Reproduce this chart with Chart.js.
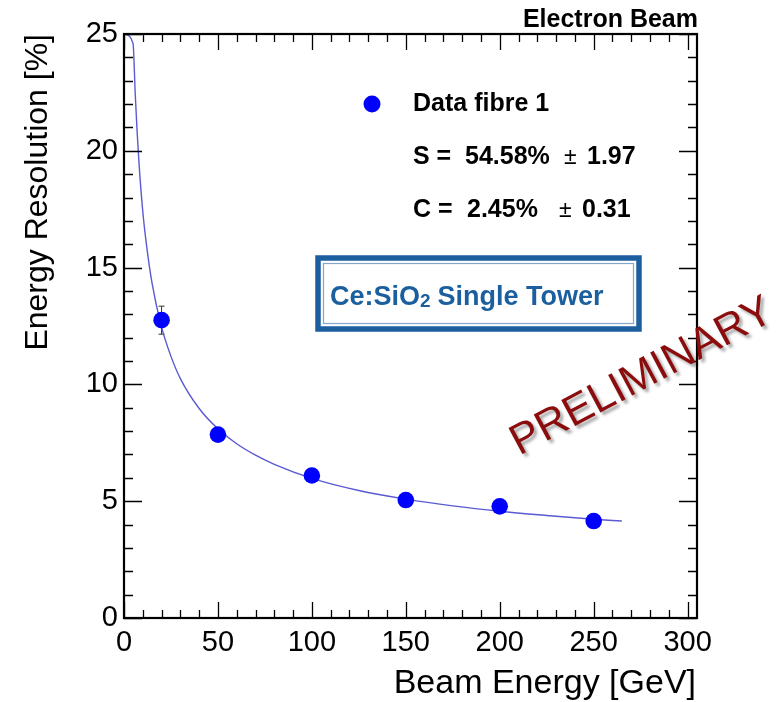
<!DOCTYPE html>
<html>
<head>
<meta charset="utf-8">
<script src="https://cdn.jsdelivr.net/npm/chart.js@4.4.1/dist/chart.umd.min.js"></script>
<style>
  html, body { margin: 0; padding: 0; background: #fff; }
  #wrap { width: 778px; height: 702px; }
</style>
</head>
<body>
<div id="wrap"><canvas id="c" width="778" height="702"></canvas></div>
<script>
// ---- Data ----
const beamEnergy = [20, 50, 100, 150, 200, 250];
const resolution = [12.75, 7.85, 6.1, 5.05, 4.78, 4.15];
const resError   = [0.6, 0.15, 0.1, 0.08, 0.07, 0.06];

// fit curve
const fitEnergy = [0.3, 4.8, 6, 7, 8, 10, 12, 15, 20, 25, 30, 40, 50, 60, 70, 80, 100, 125, 150, 175, 200, 225, 250, 265];
const fitRes    = [25, 24.6, 22.4, 20.8, 19.45, 17.4, 15.95, 14.3, 12.45, 11.2, 10.25, 8.97, 8.1, 7.46, 6.97, 6.58, 5.98, 5.46, 5.09, 4.8, 4.57, 4.39, 4.23, 4.15];

const xTickLabels = [0, 50, 100, 150, 200, 250, 300];
const yTickLabels = [0, 5, 10, 15, 20, 25];

const FONT = '"Liberation Sans", Arial, Helvetica, sans-serif';

const points = beamEnergy.map((e, i) => ({x: e, y: resolution[i]}));
const fitPts = fitEnergy.map((e, i) => ({x: e, y: fitRes[i]}));

const errorBars = {
  id: 'errorBars',
  beforeDatasetsDraw(chart) {
    const ctx = chart.ctx, xs = chart.scales.x, ys = chart.scales.y;
    ctx.save();
    ctx.strokeStyle = '#333';
    ctx.lineWidth = 1;
    beamEnergy.forEach((e, i) => {
      const px = xs.getPixelForValue(e);
      const y1 = ys.getPixelForValue(resolution[i] + resError[i]);
      const y2 = ys.getPixelForValue(resolution[i] - resError[i]);
      ctx.beginPath();
      ctx.moveTo(px, y1); ctx.lineTo(px, y2);
      ctx.moveTo(px - 3, y1); ctx.lineTo(px + 3, y1);
      ctx.moveTo(px - 3, y2); ctx.lineTo(px + 3, y2);
      ctx.stroke();
    });
    ctx.restore();
  }
};

const frameAndDecor = {
  id: 'frameAndDecor',
  afterDraw(chart) {
    const ctx = chart.ctx, xs = chart.scales.x, ys = chart.scales.y;
    const a = chart.chartArea;
    ctx.save();
    ctx.strokeStyle = '#000';
    ctx.lineWidth = 1.3;
    // x ticks (bottom and top), inward
    for (let v = xs.min; v <= xs.max + 1e-6; v += 10) {
      const px = Math.round(xs.getPixelForValue(v)) + 0.5;
      const major = Math.abs(v % 50) < 1e-6;
      const L = major ? 16 : 8;
      ctx.beginPath();
      ctx.moveTo(px, a.bottom); ctx.lineTo(px, a.bottom - L);
      ctx.moveTo(px, a.top); ctx.lineTo(px, a.top + L);
      ctx.stroke();
    }
    // y ticks (left and right), inward
    for (let v = ys.min; v <= ys.max + 1e-6; v += 1) {
      const py = Math.round(ys.getPixelForValue(v)) + 0.5;
      const major = Math.abs(v % 5) < 1e-6;
      const L = major ? 18 : 9;
      ctx.beginPath();
      ctx.moveTo(a.left, py); ctx.lineTo(a.left + L, py);
      ctx.moveTo(a.right, py); ctx.lineTo(a.right - L, py);
      ctx.stroke();
    }
    // frame
    ctx.lineWidth = 2.2;
    ctx.strokeRect(a.left, a.top, a.right - a.left, a.bottom - a.top);

    // axis titles
    ctx.fillStyle = '#000';
    ctx.font = '34px ' + FONT;
    ctx.textAlign = 'right';
    ctx.textBaseline = 'alphabetic';
    ctx.fillText('Beam Energy [GeV]', 696, 693);
    ctx.save();
    ctx.font = '32px ' + FONT;
    ctx.translate(47, 34);
    ctx.rotate(-Math.PI / 2);
    ctx.textAlign = 'right';
    ctx.fillText('Energy Resolution [%]', 0, 0);
    ctx.restore();

    // top-right label
    ctx.font = 'bold 25px ' + FONT;
    ctx.textAlign = 'right';
    ctx.fillText('Electron Beam', 698, 27);

    // legend
    ctx.fillStyle = '#0000ff';
    ctx.beginPath(); ctx.arc(372, 104, 8.5, 0, Math.PI * 2); ctx.fill();
    ctx.fillStyle = '#000';
    ctx.textAlign = 'left';
    ctx.textBaseline = 'middle';
    ctx.font = 'bold 25px ' + FONT;
    ctx.fillText('Data fibre 1', 413, 104);
    ctx.fillText('S =', 413, 157);
    ctx.fillText('54.58%', 465, 157);
    ctx.fillText('1.97', 587, 157);
    ctx.fillText('C =', 413, 210);
    ctx.fillText('2.45%', 467, 210);
    ctx.fillText('0.31', 582, 210);
    ctx.font = '23px ' + FONT;
    ctx.fillText('\u00b1', 564, 158);
    ctx.fillText('\u00b1', 559, 211);

    // Ce:SiO2 box (stamp-like frame)
    ctx.strokeStyle = '#1b5f9e';
    ctx.lineWidth = 5.5;
    ctx.strokeRect(318, 258, 321, 71);
    ctx.strokeStyle = 'rgba(27,95,158,0.55)';
    ctx.lineWidth = 1.2;
    ctx.strokeRect(323.5, 263.5, 310, 60);
    ctx.fillStyle = '#1b5f9e';
    ctx.font = 'bold 27px ' + FONT;
    ctx.textBaseline = 'alphabetic';
    let x = 330;
    ctx.fillText('Ce:SiO', x, 305);
    x += ctx.measureText('Ce:SiO').width;
    ctx.font = 'bold 19px ' + FONT;
    ctx.fillText('2', x, 307);
    x += ctx.measureText('2').width + 7;
    ctx.font = 'bold 27px ' + FONT;
    ctx.fillText('Single Tower', x, 305);

    // PRELIMINARY stamp
    ctx.save();
    ctx.translate(642, 377);
    ctx.rotate(-28 * Math.PI / 180);
    ctx.font = '43px ' + FONT;
    ctx.textAlign = 'center';
    ctx.textBaseline = 'middle';
    ctx.shadowColor = 'rgba(0,0,0,0.35)';
    ctx.shadowOffsetX = 3;
    ctx.shadowOffsetY = 3;
    ctx.shadowBlur = 3;
    ctx.fillStyle = '#8a0c0c';
    ctx.fillText('PRELIMINARY', 0, 0);
    ctx.restore();

    ctx.restore();
  }
};

new Chart(document.getElementById('c'), {
  type: 'scatter',
  data: {
    datasets: [
      {
        label: 'fit',
        data: fitPts,
        showLine: true,
        borderColor: '#5a5ad2',
        borderWidth: 1.4,
        pointRadius: 0,
        cubicInterpolationMode: 'monotone',
        order: 2
      },
      {
        label: 'Data fibre 1',
        data: points,
        backgroundColor: '#0000ff',
        borderColor: '#0000ff',
        pointRadius: 8.3,
        pointBorderWidth: 0,
        order: 1
      }
    ]
  },
  options: {
    responsive: false,
    animation: false,
    devicePixelRatio: 1,
    layout: { padding: { top: 34, right: 81, left: 0, bottom: 0 } },
    plugins: { legend: { display: false }, tooltip: { enabled: false } },
    scales: {
      x: {
        type: 'linear', min: 0, max: 305,
        grid: { display: false, drawTicks: false },
        border: { display: false },
        afterBuildTicks: (s) => { s.ticks = xTickLabels.map(v => ({ value: v })); },
        afterFit: (s) => { s.height = 84; },
        ticks: { font: { family: FONT, size: 29 }, color: '#000', padding: 8, maxRotation: 0, autoSkip: false }
      },
      y: {
        type: 'linear', min: 0, max: 25,
        grid: { display: false, drawTicks: false },
        border: { display: false },
        afterBuildTicks: (s) => { s.ticks = yTickLabels.map(v => ({ value: v })); },
        afterFit: (s) => { s.width = 124; },
        ticks: { font: { family: FONT, size: 29 }, color: '#000', padding: 6 }
      }
    }
  },
  plugins: [errorBars, frameAndDecor]
});
</script>
</body>
</html>
